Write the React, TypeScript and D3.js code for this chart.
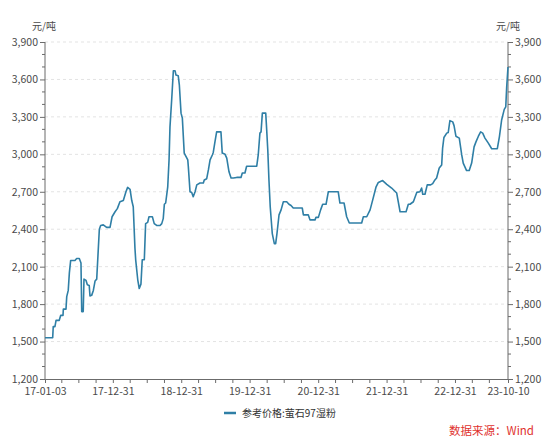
import { useEffect, useRef } from 'react';
import * as d3 from 'd3';

const W = 553;
const H = 446;
const [mt, mr, mb, ml] = [42, 45, 67, 45];

// 参考价格:萤石97湿粉 (元/吨)
const dates = [
    '2017-01-03', '2017-02-13', '2017-02-16', '2017-02-25', '2017-03-03', '2017-03-20', '2017-03-28', '2017-04-09',
    '2017-04-11', '2017-04-25', '2017-04-29', '2017-05-07', '2017-05-13', '2017-05-20', '2017-06-12', '2017-06-21',
    '2017-07-05', '2017-07-09', '2017-07-14', '2017-07-18', '2017-07-26', '2017-07-30', '2017-08-10', '2017-08-17',
    '2017-08-27', '2017-08-31', '2017-09-09', '2017-09-18', '2017-09-27', '2017-10-06', '2017-10-20', '2017-10-27',
    '2017-11-10', '2017-11-28', '2017-12-16', '2017-12-27', '2018-01-12', '2018-01-24', '2018-02-07', '2018-02-25',
    '2018-03-11', '2018-03-20', '2018-04-02', '2018-04-11', '2018-04-19', '2018-04-28', '2018-05-02', '2018-05-13',
    '2018-05-21', '2018-05-30', '2018-06-06', '2018-06-17', '2018-06-24', '2018-07-05', '2018-07-12', '2018-07-30',
    '2018-08-09', '2018-08-22', '2018-09-09', '2018-09-18', '2018-09-26', '2018-10-02', '2018-10-09', '2018-10-20',
    '2018-10-27', '2018-11-01', '2018-11-10', '2018-11-19', '2018-11-28', '2018-12-03', '2018-12-15', '2018-12-21',
    '2018-12-30', '2019-01-06', '2019-01-16', '2019-02-04', '2019-02-07', '2019-02-16', '2019-02-25', '2019-03-05',
    '2019-03-15', '2019-03-24', '2019-04-10', '2019-04-28', '2019-05-03', '2019-05-16', '2019-05-25', '2019-06-03',
    '2019-06-15', '2019-06-20', '2019-06-29', '2019-07-08', '2019-07-31', '2019-08-07', '2019-08-22', '2019-08-31',
    '2019-09-12', '2019-09-23', '2019-10-05', '2019-10-23', '2019-11-15', '2019-11-22', '2019-12-06', '2019-12-15',
    '2020-02-07', '2020-02-15', '2020-02-24', '2020-03-01', '2020-03-08', '2020-03-26', '2020-03-31', '2020-04-06',
    '2020-04-12', '2020-04-19', '2020-04-30', '2020-05-11', '2020-05-18', '2020-05-25', '2020-06-05', '2020-06-16',
    '2020-06-28', '2020-07-16', '2020-07-28', '2020-08-08', '2020-08-20', '2020-10-07', '2020-10-13', '2020-11-08',
    '2020-11-17', '2020-12-14', '2020-12-19', '2021-01-01', '2021-01-13', '2021-01-24', '2021-02-11', '2021-02-23',
    '2021-04-17', '2021-04-26', '2021-05-18', '2021-06-01', '2021-06-15', '2021-08-20', '2021-08-29', '2021-09-16',
    '2021-10-04', '2021-10-18', '2021-11-05', '2021-11-17', '2021-12-10', '2022-01-01', '2022-01-27', '2022-02-23',
    '2022-03-13', '2022-04-14', '2022-04-26', '2022-05-05', '2022-05-23', '2022-06-10', '2022-06-27', '2022-07-06',
    '2022-07-12', '2022-07-24', '2022-08-05', '2022-08-23', '2022-09-03', '2022-09-15', '2022-09-24', '2022-10-08',
    '2022-10-21', '2022-10-26', '2022-11-02', '2022-11-17', '2022-11-25', '2022-12-04', '2022-12-19', '2022-12-26',
    '2023-01-05', '2023-01-23', '2023-02-05', '2023-02-13', '2023-03-03', '2023-03-17', '2023-03-30', '2023-04-12',
    '2023-04-22', '2023-05-05', '2023-05-17', '2023-05-28', '2023-06-09', '2023-06-27', '2023-07-15', '2023-08-14',
    '2023-08-25', '2023-09-06', '2023-09-20', '2023-09-28', '2023-10-03', '2023-10-10'
];

const prices = [
    1530, 1530, 1620, 1620, 1670, 1670, 1710, 1710,
    1760, 1760, 1860, 1910, 2050, 2150, 2150, 2165,
    2165, 2150, 2130, 1740, 1740, 2000, 1990, 1955,
    1950, 1865, 1870, 1910, 1985, 2000, 2400, 2430,
    2435, 2415, 2415, 2500, 2540, 2565, 2620, 2630,
    2700, 2735, 2720, 2630, 2580, 2250, 2155, 1995,
    1925, 1960, 2155, 2155, 2445, 2455, 2500, 2500,
    2445, 2430, 2430, 2445, 2485, 2600, 2610, 2740,
    2955, 3220, 3435, 3670, 3670, 3635, 3630, 3555,
    3330, 3290, 3010, 2955, 2900, 2700, 2695, 2660,
    2700, 2755, 2770, 2770, 2795, 2805, 2875, 2955,
    2995, 3015, 3100, 3180, 3180, 3010, 3000, 2970,
    2860, 2810, 2810, 2815, 2815, 2850, 2850, 2905,
    2905, 2995, 3170, 3180, 3330, 3330, 3200, 3035,
    2800, 2580, 2365, 2285, 2285, 2365, 2515, 2555,
    2620, 2620, 2600, 2590, 2570, 2570, 2515, 2515,
    2475, 2475, 2495, 2495, 2555, 2600, 2600, 2700,
    2700, 2610, 2610, 2500, 2450, 2450, 2500, 2500,
    2555, 2635, 2740, 2775, 2790, 2760, 2730, 2690,
    2540, 2540, 2600, 2600, 2620, 2695, 2700, 2730,
    2680, 2680, 2755, 2755, 2765, 2795, 2810, 2890,
    2915, 3050, 3135, 3170, 3175, 3270, 3260, 3230,
    3145, 3130, 2995, 2930, 2870, 2870, 2930, 3060,
    3100, 3145, 3180, 3170, 3130, 3090, 3045, 3045,
    3140, 3275, 3360, 3380, 3540, 3700
];

const seriesName = '参考价格:萤石97湿粉';
const unitLabel = '元/吨';
const sourceLabel = '数据来源：Wind';
const yTicks = [1200, 1500, 1800, 2100, 2400, 2700, 3000, 3300, 3600, 3900];
const xLabelDates = ['2017-01-03', '2017-12-31', '2018-12-31', '2019-12-31', '2020-12-31', '2021-12-31', '2022-12-31', '2023-10-10'];

const font = '"Microsoft YaHei", "Noto Sans CJK SC", sans-serif';
const lineColor = '#2f7fa6';
const axisColor = '#6b6b6b';
const textColor = '#4a4a4a';

type Point = { date: Date; value: number };

export default function App() {
    const ref = useRef<SVGSVGElement>(null);

    useEffect(() => {
        const svg = d3.select(ref.current);
        svg.selectAll('*').remove();

        const parse = d3.timeParse('%Y-%m-%d');
        const key = d3.timeFormat('%Y-%m-%d');
        const fmt = d3.timeFormat('%y-%m-%d');
        const data: Point[] = dates.map((d, i) => ({ date: parse(d)!, value: prices[i] }));
        const start = parse(xLabelDates[0])!;
        const end = parse(xLabelDates[xLabelDates.length - 1])!;

        const x = d3.scaleTime().domain([start, end]).range([ml, W - mr]);
        const y = d3.scaleLinear().domain([1200, 3900]).range([H - mb, mt]);

        // 网格线
        svg.append('g')
            .selectAll('line')
            .data(yTicks.slice(1))
            .join('line')
            .attr('x1', ml)
            .attr('x2', W - mr)
            .attr('y1', (d) => y(d))
            .attr('y2', (d) => y(d))
            .attr('stroke', '#e3e3e3')
            .attr('stroke-dasharray', '3,3');

        // x轴: 季度末刻度 + 年末标签
        const labelKeys = new Set(xLabelDates);
        const quarterEnds = d3.timeMonth
            .every(3)!
            .range(d3.timeMonth.offset(start, 1), end)
            .map((d) => d3.timeDay.offset(d, -1))
            .filter((d) => x(end) - x(d) > 4 && x(d) - x(start) > 4 && !labelKeys.has(key(d)));
        const allTicks = [...quarterEnds, ...xLabelDates.map((d) => parse(d)!)];

        const xAxis = d3
            .axisBottom(x)
            .tickValues(allTicks)
            .tickSize(4)
            .tickPadding(5)
            .tickFormat((d) => (labelKeys.has(key(d as Date)) ? fmt(d as Date) : ''));

        svg.append('g')
            .attr('transform', `translate(0, ${H - mb})`)
            .call(xAxis)
            .call((g) => g.select('.domain').attr('stroke', axisColor))
            .call((g) => g.selectAll('.tick line').attr('stroke', axisColor))
            .call((g) =>
                g.selectAll('.tick text').attr('fill', textColor).style('font-size', '10.5px').style('font-family', font)
            );

        // y轴 (左右)
        const minor = d3.range(1200, 3901, 100);
        const drawY = (side: 'left' | 'right') => {
            const left = side === 'left';
            const gx = left ? ml : W - mr;
            const axis = (left ? d3.axisLeft(y) : d3.axisRight(y))
                .tickValues(yTicks)
                .tickSize(5)
                .tickPadding(2)
                .tickFormat((d) => d3.format(',')(d as number));
            const g = svg.append('g').attr('transform', `translate(${gx}, 0)`);
            g.call(axis)
                .call((s) => s.select('.domain').attr('stroke', axisColor).attr('d', `M0,${y(1200)}V${y(3900)}`))
                .call((s) => s.selectAll('.tick line').attr('stroke', axisColor))
                .call((s) =>
                    s.selectAll('.tick text').attr('fill', textColor).style('font-size', '10.5px').style('font-family', font)
                );
            g.append('g')
                .selectAll('line')
                .data(minor.filter((v) => !yTicks.includes(v)))
                .join('line')
                .attr('x1', 0)
                .attr('x2', left ? -3 : 3)
                .attr('y1', (d) => y(d))
                .attr('y2', (d) => y(d))
                .attr('stroke', axisColor);
            svg.append('text')
                .attr('x', left ? 44 : gx)
                .attr('y', 30)
                .attr('text-anchor', 'middle')
                .attr('fill', textColor)
                .style('font-size', '10px')
                .style('font-family', font)
                .text(unitLabel);
        };
        drawY('left');
        drawY('right');

        const line = d3
            .line<Point>()
            .x((d) => x(d.date))
            .y((d) => y(d.value));

        svg.append('path')
            .datum(data)
            .attr('fill', 'none')
            .attr('stroke', lineColor)
            .attr('stroke-width', 1.6)
            .attr('stroke-linejoin', 'round')
            .attr('d', line);

        // 图例
        const legend = svg.append('g').attr('transform', 'translate(224, 413)');
        legend.append('line').attr('x1', 0).attr('x2', 12).attr('stroke', lineColor).attr('stroke-width', 2.5);
        legend
            .append('text')
            .attr('x', 18)
            .attr('y', 3.5)
            .attr('fill', '#333')
            .style('font-size', '10px')
            .style('font-family', font)
            .text(seriesName);

        svg.append('text')
            .attr('x', 534)
            .attr('y', 435)
            .attr('text-anchor', 'end')
            .attr('fill', '#e0322e')
            .style('font-size', '11.5px')
            .style('font-family', font)
            .text(sourceLabel);
    }, []);

    return (
        <div style={{ position: 'absolute', left: 0, top: 0, width: W, height: H, background: '#fff' }}>
            <svg ref={ref} width={W} height={H} />
        </div>
    );
}
